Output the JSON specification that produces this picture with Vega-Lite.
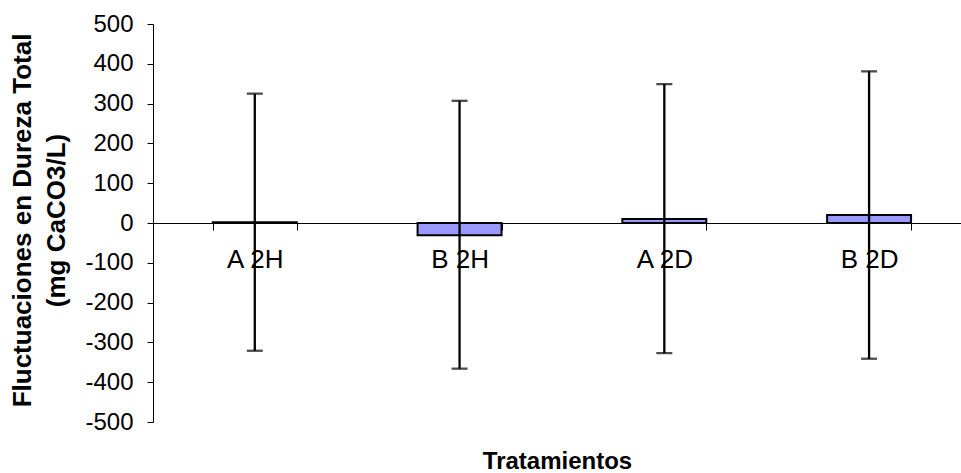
{
  "$schema": "https://vega.github.io/schema/vega-lite/v6.json",
  "width": 808,
  "height": 398,
  "autosize": "none",
  "padding": {"left": 153, "top": 24, "right": 0, "bottom": 51},
  "background": "white",
  "config": {
    "view": {"stroke": null},
    "font": "Liberation Sans",
    "axis": {"domainColor": "black", "tickColor": "black", "labelColor": "black", "titleColor": "black", "grid": false, "labelFont": "Liberation Sans", "titleFont": "Liberation Sans"},
    "axisY": {
      "values": [-500, -400, -300, -200, -100, 0, 100, 200, 300, 400, 500],
      "labelExpr": "'' + datum.value",
      "labelOverlap": false,
      "titleFontSize": 26,
      "titleFontWeight": "bold",
      "titleAngle": -90,
      "titleAlign": "center",
      "titleBaseline": "middle",
      "titleLineHeight": 34,
      "titleX": -131,
      "titleY": 196,
      "labelFontSize": 24,
      "labelPadding": 14,
      "tickSize": 6,
      "domainWidth": 1
    }
  },
  "data": {
    "values": [
      {"Tratamiento": "A 2H", "valor": 2, "inferior": -321, "superior": 325},
      {"Tratamiento": "B 2H", "valor": -31, "inferior": -366, "superior": 307},
      {"Tratamiento": "A 2D", "valor": 10, "inferior": -327, "superior": 349},
      {"Tratamiento": "B 2D", "valor": 20, "inferior": -341, "superior": 381}
    ]
  },
  "encoding": {
    "x": {
      "field": "Tratamiento",
      "type": "nominal",
      "sort": null,
      "scale": {"paddingInner": 0.59, "paddingOuter": 0.268, "align": 0.545},
      "axis": {
        "title": "Tratamientos",
        "titleFontSize": 24,
        "titleFontWeight": "bold",
        "titleBaseline": "alphabetic",
        "titleY": 245,
        "labelAngle": 0,
        "labelFontSize": 26,
        "labelPadding": 16,
        "labelOverlap": false,
        "tickSize": 7,
        "tickBand": "extent",
        "offset": -199,
        "domainWidth": 1,
        "tickWidth": 1
      }
    }
  },
  "layer": [
    {
      "mark": {"type": "bar", "fill": "#9999FF", "stroke": "black", "strokeWidth": 2},
      "encoding": {
        "y": {
          "field": "valor",
          "type": "quantitative",
          "scale": {"domain": [-500, 500], "nice": false, "zero": false},
          "axis": {"values": [-500, -400, -300, -200, -100, 0, 100, 200, 300, 400, 500], "title": ["Fluctuaciones en Dureza Total", "(mg CaCO3/L)"]}
        }
      }
    },
    {
      "mark": {"type": "rule", "color": "black", "strokeWidth": 2.3},
      "encoding": {
        "y": {"field": "inferior", "type": "quantitative", "axis": {"values": [-500, -400, -300, -200, -100, 0, 100, 200, 300, 400, 500], "title": ["Fluctuaciones en Dureza Total", "(mg CaCO3/L)"]}},
        "y2": {"field": "superior"}
      }
    },
    {
      "mark": {"type": "tick", "color": "black", "size": 16, "thickness": 2.3},
      "encoding": {
        "y": {"field": "inferior", "type": "quantitative", "axis": {"values": [-500, -400, -300, -200, -100, 0, 100, 200, 300, 400, 500], "title": ["Fluctuaciones en Dureza Total", "(mg CaCO3/L)"]}}
      }
    },
    {
      "mark": {"type": "tick", "color": "black", "size": 16, "thickness": 2.3},
      "encoding": {
        "y": {"field": "superior", "type": "quantitative", "axis": {"values": [-500, -400, -300, -200, -100, 0, 100, 200, 300, 400, 500], "title": ["Fluctuaciones en Dureza Total", "(mg CaCO3/L)"]}}
      }
    }
  ]
}
